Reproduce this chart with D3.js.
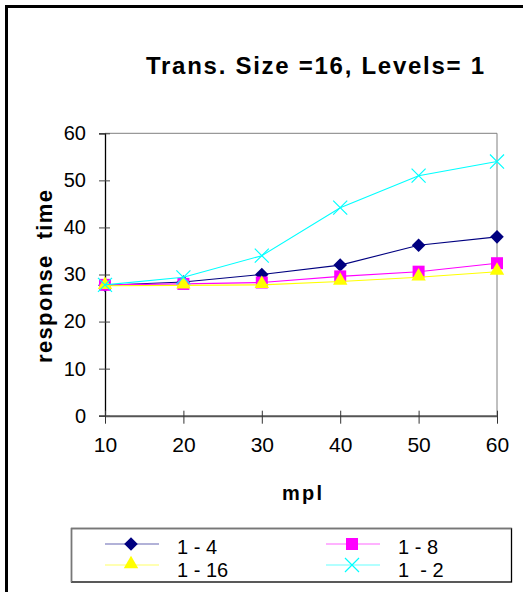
<!DOCTYPE html>
<html>
<head>
<meta charset="utf-8">
<script src="https://cdn.jsdelivr.net/npm/d3@7"></script>
<style>
  body { margin: 0; background: #fff; }
  text { font-family: "Liberation Sans", Arial, sans-serif; fill: #000; white-space: pre; }
</style>
</head>
<body>
<div id="chart"></div>
<script>
//chart data
var mpl = [10, 20, 30, 40, 50, 60];
var s1_4 = [27.7, 28.4, 30.0, 32.0, 36.2, 38.0];
var s1_8 = [27.8, 28.0, 28.3, 29.6, 30.6, 32.4];
var s1_16 = [27.6, 27.7, 27.8, 28.5, 29.4, 30.6];
var s1_2 = [27.8, 29.4, 34.0, 44.2, 51.0, 54.0];
var seriesNames = ["1 - 4", "1 - 8", "1 - 16", "1  - 2"];
var yTicks = [0, 10, 20, 30, 40, 50, 60];

var series = [
  {name: seriesNames[0], values: s1_4, color: "#000080", shape: "diamond"},
  {name: seriesNames[1], values: s1_8, color: "#ff00ff", shape: "square"},
  {name: seriesNames[2], values: s1_16, color: "#ffff00", shape: "triangle"},
  {name: seriesNames[3], values: s1_2, color: "#00ffff", shape: "x"}
];

var W = 523, H = 592;
var svg = d3.select("#chart").append("svg")
    .attr("width", W)
    .attr("height", H);

//outer frame (only top and left visible)
svg.append("rect")
    .attr("x", 6.5).attr("y", 6.5)
    .attr("width", W + 20).attr("height", H + 20)
    .attr("fill", "none")
    .attr("stroke", "#000")
    .attr("stroke-width", 3);

//scales
var x = d3.scaleLinear().domain([10, 60]).range([105, 497]);
var y = d3.scaleLinear().domain([0, 60]).range([415.7, 133.3]);

//title
svg.append("text")
    .attr("x", 315).attr("y", 74)
    .attr("text-anchor", "middle")
    .attr("font-size", 24)
    .attr("font-weight", "bold")
    .attr("textLength", 338)
    .attr("lengthAdjust", "spacing")
    .text("Trans. Size =16, Levels= 1");

//plot area border (top and right)
svg.append("path")
    .attr("d", "M" + x(10) + "," + y(60) + "H" + x(60) + "V" + y(0))
    .attr("fill", "none")
    .attr("stroke", "#808080")
    .attr("stroke-width", 1);

//Y axis
var yAxis = svg.append("g")
    .attr("transform", "translate(" + x(10) + ",0)")
    .call(d3.axisLeft(y).tickValues(yTicks).tickSize(6).tickPadding(0));
yAxis.select(".domain").attr("stroke", "#000").attr("stroke-width", 1.3);
yAxis.selectAll(".tick line").attr("x1", -6).attr("x2", 5).attr("stroke", "#444");
yAxis.selectAll(".tick text")
    .attr("x", -19)
    .attr("font-size", 20)
    .attr("font-family", "Liberation Sans, Arial, sans-serif");

//X axis
var xAxis = svg.append("g")
    .attr("transform", "translate(0," + y(0) + ")")
    .call(d3.axisBottom(x).tickValues(mpl).tickSize(8).tickPadding(0).tickSizeOuter(0));
xAxis.select(".domain").attr("stroke", "#555").attr("stroke-width", 2);
xAxis.selectAll(".tick line").attr("y1", -5).attr("y2", 8).attr("stroke", "#333");
xAxis.selectAll(".tick text")
    .attr("y", 21)
    .attr("font-size", 21)
    .attr("font-family", "Liberation Sans, Arial, sans-serif");

//axis titles
svg.append("text")
    .attr("x", 302).attr("y", 500)
    .attr("text-anchor", "middle")
    .attr("font-size", 20)
    .attr("font-weight", "bold")
    .attr("textLength", 40)
    .attr("lengthAdjust", "spacing")
    .text("mpl");

svg.append("text")
    .attr("transform", "translate(52,276.5) rotate(-90)")
    .attr("text-anchor", "middle")
    .attr("font-size", 22)
    .attr("font-weight", "bold")
    .attr("textLength", 173)
    .attr("lengthAdjust", "spacing")
    .text("response  time");

//marker helper
function marker(shape) {
  if (shape == "diamond") return d3.symbol(d3.symbolSquare, 92)();
  if (shape == "square") return d3.symbol(d3.symbolSquare, 144)();
  if (shape == "triangle") return d3.symbol(d3.symbolTriangle, 90)();
  return d3.symbol(d3.symbolX, 130)();
}
function drawMarker(g, s) {
  var p = g.append("path").attr("d", marker(s.shape));
  if (s.shape == "x") {
    p.attr("fill", "none").attr("stroke", s.color).attr("stroke-width", 1.2);
  } else {
    p.attr("fill", s.color);
  }
  if (s.shape == "diamond") p.attr("transform", "rotate(45)");
  if (s.shape == "triangle") p.attr("transform", "translate(0,-1)");
  return p;
}

var line = d3.line()
    .x((d, i) => x(mpl[i]))
    .y((d) => y(d));

//lines and markers
series.forEach(function(s) {
  svg.append("path")
      .datum(s.values)
      .attr("d", line)
      .attr("fill", "none")
      .attr("stroke", s.color)
      .attr("stroke-width", 1.1);
  s.values.forEach(function(v, i) {
    var g = svg.append("g").attr("transform", "translate(" + x(mpl[i]) + "," + y(v) + ")");
    drawMarker(g, s);
  });
});

//legend
var legend = svg.append("g");
legend.append("rect")
    .attr("x", 71.5).attr("y", 528.5)
    .attr("width", 440).attr("height", 53.5)
    .attr("fill", "#fff")
    .attr("stroke", "#000")
    .attr("stroke-width", 1.3);
legend.append("path")
    .attr("d", "M71.5,582V528.5H511.5")
    .attr("fill", "none")
    .attr("stroke", "#777")
    .attr("stroke-width", 1.3);

var legX = [105, 326], legY = [544, 565];
series.forEach(function(s, i) {
  var lx = legX[i % 2], ly = legY[Math.floor(i / 2)];
  var g = legend.append("g").attr("transform", "translate(" + lx + "," + ly + ")");
  g.append("line")
      .attr("x1", 0).attr("x2", 54)
      .attr("stroke", s.color)
      .attr("stroke-opacity", 0.6)
      .attr("stroke-width", 1.2);
  var m = g.append("g").attr("transform", "translate(26,0)");
  drawMarker(m, s);
  g.append("text")
      .attr("x", 72).attr("y", 4.5 + (i < 2 ? -0.3 : 1))
      .attr("dy", "0.3em")
      .attr("font-size", 20)
      .text(s.name);
});
</script>
</body>
</html>
